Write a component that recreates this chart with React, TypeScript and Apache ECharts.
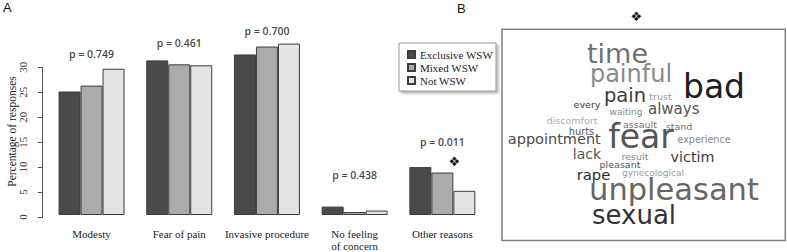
import React, { useEffect, useRef } from 'react';
import * as echarts from 'echarts';

// ---- Panel A data ----
const categories = ['Modesty', 'Fear of pain', 'Invasive procedure', 'No feeling\nof concern', 'Other reasons'];
const seriesNames = ['Exclusive WSW', 'Mixed WSW', 'Not WSW'];
const exclusiveWSW = [25.0, 31.3, 32.5, 1.7, 9.7];
const mixedWSW = [26.2, 30.5, 34.1, 0.6, 8.6];
const notWSW = [29.6, 30.3, 34.7, 0.9, 4.9];
const pValueTexts = ['p = 0.749', 'p = 0.461', 'p = 0.700', 'p = 0.438', 'p = 0.011'];
const pLabelHeights = [32.5, 34.9, 37.3, 8.1, 14.8];

// ---- Panel B data (word cloud) ----
const cloudWords = ['time', 'painful', 'bad', 'pain', 'trust', 'every', 'waiting', 'always', 'discomfort', 'assault', 'stand', 'hurts', 'appointment', 'fear', 'experience', 'lack', 'result', 'victim', 'pleasant', 'rape', 'gynecological', 'unpleasant', 'sexual'];
const cloudSizes = [27, 24, 33, 19.5, 9.5, 9.5, 9, 15, 9.5, 9.5, 9.5, 9.8, 14.5, 33, 9.6, 14, 9.5, 14.3, 9.5, 14.8, 9, 30.5, 26];
const cloudShades = ['#707070', '#8a8a8a', '#1e1e1e', '#3c3c3c', '#9a9a9a', '#3a3a3a', '#8a8a8a', '#555555', '#aaaaaa', '#707070', '#707070', '#555555', '#4a4a4a', '#555555', '#888888', '#555555', '#888888', '#3a3a3a', '#555555', '#2a2a2a', '#999999', '#666666', '#333333'];
// layout (centre of each word, px)
const cloudLayout = [
  [617.5, 53.5], [631, 74.3], [714, 86.4], [625, 95.9], [660.5, 96], [587, 104], [626, 111.8], [673.7, 109],
  [572, 120.7], [640, 124.4], [679, 126.7], [581.5, 131.7], [554.3, 138.9], [641, 136.7], [704, 139.4],
  [587, 154.4], [635, 156.7], [692.5, 156.7], [620, 164.4], [593.5, 174.8], [653, 173], [674, 189.3], [634, 214.9],
];

const barColors = ['#4a4a4a', '#ababab', '#e4e4e4'];

export default function App() {
  const ref = useRef<HTMLDivElement>(null);
  useEffect(() => {
    if (!ref.current) return;
    const chart = echarts.init(ref.current, undefined, { renderer: 'svg' });
    const serif = 'Liberation Serif';
    const barData = [exclusiveWSW, mixedWSW, notWSW];
    const bars = seriesNames.map((name, i) => ({
      name,
      type: 'bar',
      xAxisIndex: 0,
      yAxisIndex: 0,
      data: barData[i],
      barWidth: 22,
      barGap: '0%',
      itemStyle: { color: barColors[i], borderColor: '#3d3d3d', borderWidth: 1 },
      silent: true,
    }));
    const words = cloudWords.map((w, i) => ({
      type: 'text',
      x: cloudLayout[i][0],
      y: cloudLayout[i][1],
      silent: true,
      style: {
        text: w,
        fill: cloudShades[i],
        font: `${cloudSizes[i]}px "DejaVu Sans"`,
        textAlign: 'center',
        textVerticalAlign: 'middle',
      },
    }));
    chart.setOption({
      animation: false,
      grid: [
        { left: 47.7, top: 17.4, width: 438.5, height: 199.6 },
        { left: 47.7, top: 67.3, width: 438.5, height: 149.7 },
      ],
      xAxis: [
        {
          type: 'category', gridIndex: 0, data: categories,
          axisLine: { show: false }, axisTick: { show: false },
          axisLabel: { interval: 0, fontFamily: serif, fontSize: 11, color: '#222', margin: 13, lineHeight: 12 },
        },
        { type: 'category', gridIndex: 1, data: categories, show: false },
      ],
      yAxis: [
        { type: 'value', gridIndex: 0, min: 0, max: 40, show: false },
        {
          type: 'value', gridIndex: 1, min: 0, max: 30, interval: 5, offset: 5,
          axisLine: { show: true, lineStyle: { color: '#555' } },
          axisTick: { show: true, length: 5, lineStyle: { color: '#555' } },
          axisLabel: { rotate: 90, margin: 14, fontFamily: serif, fontSize: 11, color: '#333' },
          splitLine: { show: false },
        },
      ],
      legend: {
        data: seriesNames,
        orient: 'vertical',
        left: 399,
        top: 43,
        padding: [5, 3, 4, 8],
        itemGap: 0,
        itemWidth: 7,
        itemHeight: 7,
        icon: 'rect',
        backgroundColor: '#fff',
        borderColor: '#999',
        borderWidth: 1,
        shadowColor: 'rgba(0,0,0,0.3)',
        shadowBlur: 2,
        shadowOffsetX: 2,
        shadowOffsetY: 2,
        selectedMode: false,
        textStyle: { fontFamily: serif, fontSize: 11, color: '#222', lineHeight: 13 },
      },
      series: [
        ...bars,
        {
          type: 'scatter',
          xAxisIndex: 0,
          yAxisIndex: 0,
          symbolSize: 1,
          silent: true,
          itemStyle: { color: 'rgba(0,0,0,0)' },
          data: pLabelHeights.map((v, i) => [i, v]),
          label: {
            show: true,
            position: 'inside',
            formatter: (p: any) => pValueTexts[p.dataIndex],
            fontFamily: 'Open Sans',
            fontSize: 10.5,
            fontWeight: 600,
            color: '#111',
          },
        },
      ],
      graphic: [
        { type: 'text', x: 3, y: 1, silent: true, style: { text: 'A', font: '13px "Liberation Sans"', fill: '#111' } },
        { type: 'text', x: 457, y: 1.5, silent: true, style: { text: 'B', font: '13px "Liberation Sans"', fill: '#111' } },
        {
          type: 'text', x: 12, y: 131.5, rotation: Math.PI / 2, silent: true,
          style: { text: 'Percentage of responses', font: `11.5px "${serif}"`, fill: '#222', textAlign: 'center', textVerticalAlign: 'middle' },
        },
        { type: 'text', x: 454.3, y: 161.7, silent: true, style: { text: '❖', font: '13px "DejaVu Sans"', fill: '#111', textAlign: 'center', textVerticalAlign: 'middle' } },
        { type: 'text', x: 636.3, y: 16.7, silent: true, style: { text: '❖', font: '13px "DejaVu Sans"', fill: '#111', textAlign: 'center', textVerticalAlign: 'middle' } },
        {
          type: 'rect', silent: true,
          shape: { x: 502, y: 29.3, width: 283.3, height: 211.3 },
          style: { fill: '#fff', stroke: '#808080', lineWidth: 1.5 },
        },
        ...words,
      ],
    });
    return () => chart.dispose();
  }, []);
  return <div ref={ref} style={{ position: 'fixed', left: 0, top: 0, width: 787, height: 252, background: '#fff' }} />;
}
